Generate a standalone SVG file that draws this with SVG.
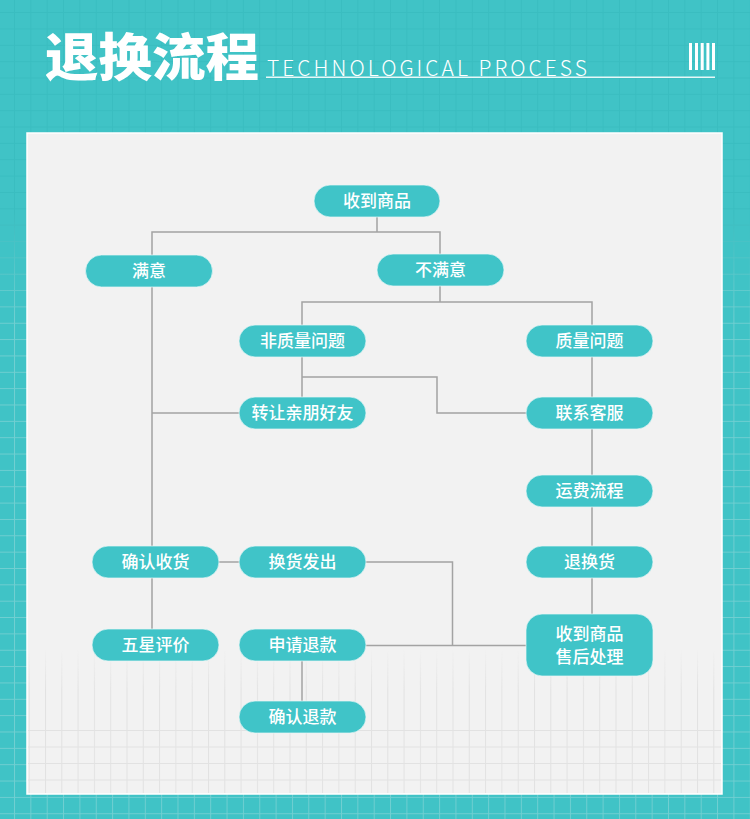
<svg xmlns="http://www.w3.org/2000/svg" width="750" height="819" viewBox="0 0 750 819">
<style>
.node rect{fill:#40c4c8;stroke:#e9f7f7;stroke-width:1;stroke-opacity:0.7}
.node text{fill:#ffffff;font-family:"Noto Sans CJK SC","Noto Sans",sans-serif;font-size:17px;font-weight:500;text-anchor:middle}
#connectors path{fill:none;stroke:#a3a3a3;stroke-width:1.5}
</style>
<defs>
<pattern id="gd" x="14" y="241" width="16.35" height="16.35" patternUnits="userSpaceOnUse">
<path d="M0.5 0V16.35M0 0.5H16.35" stroke="#2fb0b3" stroke-opacity="0.35" stroke-width="1" fill="none"/>
</pattern>
<pattern id="gw" x="14" y="241" width="16.35" height="16.35" patternUnits="userSpaceOnUse">
<path d="M0.5 0V16.35M0 0.5H16.35" stroke="#ffffff" stroke-opacity="0.28" stroke-width="1" fill="none"/>
</pattern>
<linearGradient id="fade" x1="0" y1="210" x2="0" y2="320" gradientUnits="userSpaceOnUse">
<stop offset="0" stop-color="#000"/>
<stop offset="1" stop-color="#fff"/>
</linearGradient>
<mask id="m1" maskUnits="userSpaceOnUse" x="0" y="0" width="750" height="819">
<rect x="0" y="0" width="750" height="819" fill="url(#fade)"/>
</mask>
<pattern id="pv" x="45" y="0" width="16.3" height="20" patternUnits="userSpaceOnUse">
<line x1="0.5" y1="0" x2="0.5" y2="20" stroke="#e2e2e2" stroke-width="1"/>
</pattern>
<pattern id="ph" x="0" y="730" width="20" height="16.5" patternUnits="userSpaceOnUse">
<line x1="0" y1="0.5" x2="20" y2="0.5" stroke="#e2e2e2" stroke-width="1"/>
</pattern>
<linearGradient id="fade2" x1="0" y1="650" x2="0" y2="690" gradientUnits="userSpaceOnUse">
<stop offset="0" stop-color="#000"/>
<stop offset="1" stop-color="#fff"/>
</linearGradient>
<mask id="m2" maskUnits="userSpaceOnUse" x="0" y="0" width="750" height="819">
<rect x="0" y="0" width="750" height="819" fill="url(#fade2)"/>
</mask>
</defs>

<!-- background -->
<rect x="0" y="0" width="750" height="819" fill="#40c3c6"/>
<rect x="0" y="0" width="750" height="819" fill="url(#gd)"/>
<rect x="0" y="0" width="750" height="819" fill="url(#gw)" mask="url(#m1)"/>

<!-- header -->
<text x="45" y="76" font-family="Noto Sans CJK SC,sans-serif" font-size="51" font-weight="900" fill="#ffffff" textLength="214" lengthAdjust="spacingAndGlyphs">退换流程</text>
<text x="267" y="76" font-family="Noto Sans CJK SC,Noto Sans,sans-serif" font-size="21" font-weight="200" fill="#ffffff" textLength="320" lengthAdjust="spacing">TECHNOLOGICAL PROCESS</text>
<rect x="266" y="76.5" width="449" height="1.5" fill="#e6f8f8"/>
<g fill="#ffffff">
<rect x="689" y="43" width="3" height="27"/>
<rect x="695" y="43" width="3" height="27"/>
<rect x="700.7" y="43" width="3" height="27"/>
<rect x="706.4" y="43" width="3" height="27"/>
<rect x="712" y="43" width="3" height="27"/>
</g>

<!-- panel -->
<rect x="27" y="133" width="695" height="661" fill="#f2f2f2" stroke="#ffffff" stroke-width="1.5"/>
<rect x="28" y="650" width="693" height="143" fill="url(#pv)" mask="url(#m2)"/>
<rect x="28" y="722" width="693" height="71" fill="url(#ph)"/>

<!-- connectors -->
<g id="connectors">
<path d="M377 217V232M152 255V232H440V254"/>
<path d="M440 286V302M302 325V302H592V325"/>
<path d="M152 287V546M152 578V629"/>
<path d="M152 413H239"/>
<path d="M302 357V397M302 377H437V413H526"/>
<path d="M592 357V397M592 429V475M592 507V546M592 578V614"/>
<path d="M219 562H239"/>
<path d="M366 562H452.5V645.5"/>
<path d="M366 645.5H526"/>
<path d="M302 661V701"/>
</g>

<!-- nodes -->
<g id="n-shoudao" class="node"><rect x="314" y="185" width="126" height="32" rx="16"/><text x="377" y="207">收到商品</text></g>
<g id="n-manyi" class="node"><rect x="85.5" y="255" width="127" height="32" rx="16"/><text x="149" y="277">满意</text></g>
<g id="n-bumanyi" class="node"><rect x="377" y="254" width="127" height="32" rx="16"/><text x="440.5" y="276">不满意</text></g>
<g id="n-feizhiliang" class="node"><rect x="239" y="325" width="127" height="32" rx="16"/><text x="302.5" y="347">非质量问题</text></g>
<g id="n-zhiliang" class="node"><rect x="526" y="325" width="127" height="32" rx="16"/><text x="589.5" y="347">质量问题</text></g>
<g id="n-zhuanrang" class="node"><rect x="239" y="397" width="127" height="32" rx="16"/><text x="302.5" y="419">转让亲朋好友</text></g>
<g id="n-lianxi" class="node"><rect x="526" y="397" width="127" height="32" rx="16"/><text x="589.5" y="419">联系客服</text></g>
<g id="n-yunfei" class="node"><rect x="526" y="475" width="127" height="32" rx="16"/><text x="589.5" y="497">运费流程</text></g>
<g id="n-querenshouhuo" class="node"><rect x="92" y="546" width="127" height="32" rx="16"/><text x="155.5" y="568">确认收货</text></g>
<g id="n-huanhuo" class="node"><rect x="239" y="546" width="127" height="32" rx="16"/><text x="302.5" y="568">换货发出</text></g>
<g id="n-tuihuan" class="node"><rect x="526" y="546" width="127" height="32" rx="16"/><text x="589.5" y="568">退换货</text></g>
<g id="n-wuxing" class="node"><rect x="92" y="629" width="127" height="32" rx="16"/><text x="155.5" y="651">五星评价</text></g>
<g id="n-shenqing" class="node"><rect x="239" y="629" width="127" height="32" rx="16"/><text x="302.5" y="651">申请退款</text></g>
<g id="n-shouhou" class="node"><rect x="526" y="614" width="127" height="62" rx="16"/><text x="589.5" y="640">收到商品</text><text x="589.5" y="663">售后处理</text></g>
<g id="n-querentuikuan" class="node"><rect x="239" y="701" width="127" height="32" rx="16"/><text x="302.5" y="723">确认退款</text></g>
</svg>
